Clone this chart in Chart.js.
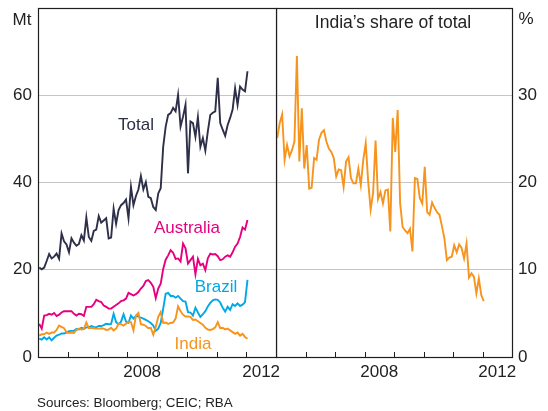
<!DOCTYPE html>
<html>
<head>
<meta charset="utf-8">
<script src="https://cdn.jsdelivr.net/npm/chart.js@4.4.0/dist/chart.umd.min.js"></script>
<style>
  body { margin: 0; background: #fff; }
  #wrap { position: relative; width: 548px; height: 411px; overflow: hidden;
          font-family: Arial, "Liberation Sans", sans-serif; color: #222; }
  canvas { position: absolute; top: 0; }
  .lbl { position: absolute; white-space: nowrap; line-height: 1; font-size: 17px;
         transform: translate(-50%, -50%); }
</style>
</head>
<body>
<div id="wrap">
  <canvas id="leftChart" width="292" height="411" style="left:0"></canvas>
  <canvas id="rightChart" width="272" height="411" style="left:276px"></canvas>

  <div class="lbl" style="left:22px; top:19px;">Mt</div>
  <div class="lbl" style="left:526px; top:18px;">%</div>
  <div class="lbl" style="left:393px; top:22.5px; font-size:17.5px;">India’s share of total</div>
  <div class="lbl" style="left:136px; top:124px; color:#2e2f48;">Total</div>
  <div class="lbl" style="left:187px; top:227px; color:#e6007e;">Australia</div>
  <div class="lbl" style="left:216px; top:286px; color:#00a9e6;">Brazil</div>
  <div class="lbl" style="left:193px; top:342.5px; color:#f7941d;">India</div>
  <div class="lbl" style="left:37px; top:402.5px; font-size:13.4px; transform:translate(0,-50%);">Sources: Bloomberg; CEIC; RBA</div>
</div>

<script>
// Monthly observations, Jan 2005 to Jan 2012
const months = [];
for (let y = 2005; y <= 2012; y++) {
    for (let m = 1; m <= 12; m++) {
        if (months.length < 85) months.push(y + '-' + String(m).padStart(2, '0'));
    }
}

// Iron ore imports by source, Mt
const total = [20.5,20.1,20.5,22.0,23.6,22.6,23.0,23.7,22.5,28.3,
    26.5,25.8,24.0,27.2,26.2,25.5,25.9,27.9,26.7,32.0,
    27.5,26.6,28.9,29.2,32.3,30.8,31.3,31.8,27.2,27.4,
    34.0,30.5,33.7,34.8,35.3,36.1,31.8,39.0,34.8,36.9,
    38.4,41.5,38.4,40.1,36.7,36.4,34.4,33.7,37.5,38.7,
    48.2,52.8,55.5,55.9,57.1,56.3,60.1,52.8,55.1,57.8,
    42.1,54.0,53.6,50.5,55.0,48.2,50.2,47.3,51.7,55.5,
    56.0,56.3,64.0,53.6,52.1,50.7,53.2,54.8,56.7,61.6,
    57.8,62.0,61.3,60.9,65.5];
const australia = [7.6,6.5,9.5,9.6,9.9,9.7,10.1,9.4,9.7,10.2,
    10.5,10.5,10.5,10.5,9.9,9.5,9.9,9.8,9.4,11.5,
    11.5,11.5,12.1,13.1,12.8,12.6,11.8,11.5,11.1,11.1,
    11.5,11.9,12.3,12.8,13.0,13.4,14.7,14.4,14.1,14.4,
    14.9,15.7,16.3,17.4,17.6,17.0,16.1,13.5,15.7,16.8,
    20.2,22.3,23.3,24.5,23.9,22.5,22.6,21.9,26.0,24.9,
    21.4,22.2,23.0,19.0,22.5,21.0,21.4,19.9,22.6,23.7,
    23.5,23.6,23.1,22.2,22.4,23.0,23.3,23.0,24.0,25.3,
    26.0,27.5,29.7,29.2,31.4];
const brazil = [4.2,4.0,4.5,4.0,4.5,3.8,4.4,4.9,5.1,5.4,
    5.4,5.6,5.9,6.0,6.0,6.4,6.3,6.7,6.5,6.8,
    6.8,7.1,6.9,6.8,7.1,7.1,7.3,7.6,7.5,7.6,
    9.9,8.0,7.5,8.1,9.8,8.1,7.8,9.5,8.8,9.4,
    9.3,9.0,8.8,8.5,8.2,7.8,7.2,6.0,6.5,7.8,
    11.1,14.5,14.7,14.0,14.0,13.6,14.0,13.4,12.8,12.7,
    10.3,10.2,9.5,11.3,10.2,9.2,9.8,10.5,11.6,12.4,
    13.0,13.2,13.1,12.5,11.3,10.4,11.5,10.8,12.1,11.7,
    12.3,11.7,12.0,12.6,17.7];
const india = [4.9,5.2,5.2,5.6,5.3,5.6,5.6,6.2,7.2,6.9,
    6.6,5.7,5.5,5.6,5.5,6.2,6.5,6.3,6.4,7.9,
    6.6,6.7,6.6,6.5,6.5,6.6,6.5,6.2,6.3,6.7,
    6.1,6.5,7.6,7.5,7.2,7.6,8.0,8.0,6.1,9.5,
    10.1,7.5,7.4,7.1,6.6,6.7,5.1,6.9,9.2,10.3,
    7.8,7.9,7.6,7.8,7.9,8.8,11.6,10.5,9.7,9.3,
    9.3,9.2,8.5,8.6,8.2,7.8,7.4,6.7,6.3,6.2,
    6.4,6.8,8.0,6.6,6.7,6.3,6.5,6.1,5.7,5.3,
    5.6,4.9,5.3,4.6,4.2];

// India's share of total, per cent
const indiaShare = [25.1,26.8,27.8,22.6,24.3,23.0,23.7,24.7,34.5,22.4,
    28.5,21.6,24.3,19.3,19.4,22.8,22.6,24.9,25.7,26.0,
    24.7,23.9,23.5,22.8,20.7,21.5,21.4,19.5,22.4,22.9,
    20.5,19.9,19.9,21.6,19.7,22.6,24.5,20.1,16.9,18.8,
    24.8,18.1,18.9,17.6,19.1,19.2,14.4,27.4,23.5,28.3,
    17.6,14.9,14.5,14.2,14.7,12.1,20.5,20.4,18.2,17.6,
    21.8,16.6,16.3,17.7,17.1,16.6,16.3,15.0,13.6,11.1,
    11.4,11.5,12.8,12.0,12.9,12.5,11.3,13.0,9.1,9.6,
    9.2,7.3,9.0,7.1,6.4];

// Axis setup
const xStart = 2005;
const xEnd = 2013;
const yearLabels = [2008, 2012];
const leftTicks = [0, 20, 40, 60, 80];
const rightTicks = [0, 10, 20, 30, 40];

const toX = s => +s.slice(0, 4) + (+s.slice(5) - 0.5) / 12;
const series = vals => months.map((m, i) => ({ x: toX(m), y: vals[i] }));

const FONT = { family: 'Arial, "Liberation Sans", sans-serif', size: 17 };
const frameColor = '#1e1e1e';
const gridColor = '#c6c6c6';

// Frame and inward year tick marks
const framePlugin = {
    id: 'frame',
    afterDraw(chart) {
        const { ctx, chartArea: a, scales } = chart;
        const x = scales.x;
        ctx.save();
        ctx.strokeStyle = frameColor;
        ctx.lineWidth = 1;
        ctx.beginPath();
        for (let yr = xStart + 1; yr < xEnd; yr++) {
            const px = Math.round(x.getPixelForValue(yr)) + 0.5;
            ctx.moveTo(px, a.bottom);
            ctx.lineTo(px, a.bottom - 5);
        }
        ctx.stroke();
        ctx.lineWidth = 1.2;
        ctx.strokeRect(Math.round(a.left) + 0.5, Math.round(a.top) + 0.5,
            Math.round(a.right - a.left), Math.round(a.bottom - a.top));
        ctx.restore();
    }
};

function xScale() {
    return {
        type: 'linear',
        min: xStart,
        max: xEnd,
        grid: { display: false, drawTicks: false },
        border: { display: false },
        afterBuildTicks: s => { s.ticks = yearLabels.map(y => ({ value: y + 0.5 })); },
        afterFit: s => { s.height = 54; s.paddingLeft = 0; s.paddingRight = 0; },
        ticks: {
            autoSkip: false,
            maxRotation: 0,
            padding: 5,
            color: '#222',
            font: FONT,
            callback: v => String(Math.floor(v))
        }
    };
}

function yScale(tickVals, position, width) {
    const max = tickVals[tickVals.length - 1];
    return {
        position: position,
        min: 0,
        max: max,
        afterBuildTicks: s => { s.ticks = tickVals.map(v => ({ value: v })); },
        afterFit: s => { s.width = width; s.paddingTop = 0; s.paddingBottom = 0; },
        grid: {
            drawTicks: false,
            color: c => (c.tick.value === 0 || c.tick.value === max) ? 'rgba(0,0,0,0)' : gridColor,
            lineWidth: 1
        },
        border: { display: false },
        ticks: {
            padding: 6,
            color: '#222',
            font: FONT,
            callback: v => v === max ? '' : String(v)
        }
    };
}

function lineSet(label, vals, color) {
    return {
        label: label,
        data: series(vals),
        borderColor: color,
        backgroundColor: color,
        borderWidth: 1.9,
        pointRadius: 0,
        tension: 0,
        fill: false
    };
}

new Chart(document.getElementById('leftChart'), {
    type: 'line',
    data: {
        datasets: [
            lineSet('India', india, '#f7941d'),
            lineSet('Brazil', brazil, '#00a9e6'),
            lineSet('Australia', australia, '#e6007e'),
            lineSet('Total', total, '#2e2f48')
        ]
    },
    options: {
        responsive: false,
        animation: false,
        layout: { padding: { top: 8, right: 16, bottom: 0, left: 0 } },
        plugins: { legend: { display: false }, tooltip: { enabled: false } },
        scales: { x: xScale(), y: yScale(leftTicks, 'left', 38) }
    },
    plugins: [framePlugin]
});

new Chart(document.getElementById('rightChart'), {
    type: 'line',
    data: {
        datasets: [lineSet('India’s share of total', indiaShare, '#f7941d')]
    },
    options: {
        responsive: false,
        animation: false,
        layout: { padding: { top: 8, right: 0, bottom: 0, left: 0 } },
        plugins: { legend: { display: false }, tooltip: { enabled: false } },
        scales: { x: xScale(), y: yScale(rightTicks, 'right', 36) }
    },
    plugins: [framePlugin]
});
</script>
</body>
</html>
